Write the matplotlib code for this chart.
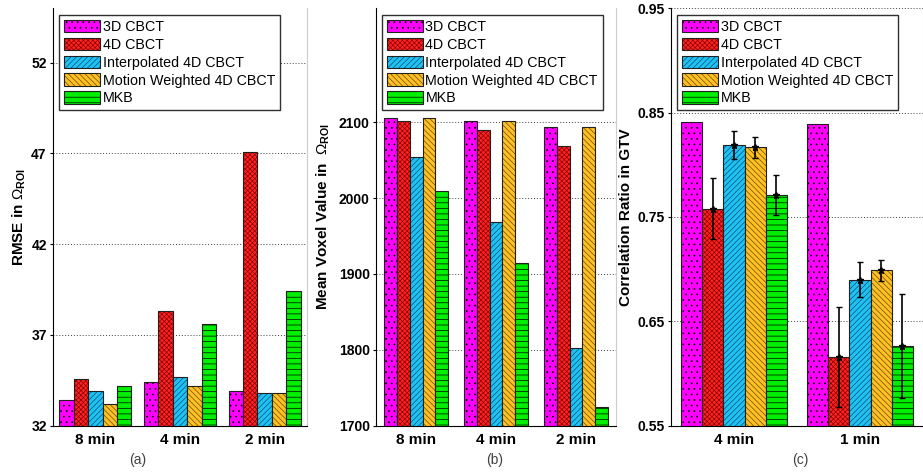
import matplotlib
matplotlib.use('Agg')
import numpy as np
import matplotlib.pyplot as plt
from matplotlib.patches import Patch

plt.rcParams['font.family'] = ['Liberation Sans', 'DejaVu Sans']
plt.rcParams['mathtext.fontset'] = 'custom'
plt.rcParams['mathtext.rm'] = 'Liberation Sans'
plt.rcParams['mathtext.bf'] = 'Liberation Sans:bold'
plt.rcParams['hatch.linewidth'] = 0.5

methods = ['3D CBCT', '4D CBCT', 'Interpolated 4D CBCT', 'Motion Weighted 4D CBCT', 'MKB']

# (a) RMSE
groups_a = ['8 min', '4 min', '2 min']
rmse_3d = [33.4, 34.4, 33.9]
rmse_4d = [34.55, 38.3, 47.1]
rmse_interp = [33.9, 34.7, 33.8]
rmse_mw = [33.2, 34.2, 33.8]
rmse_mkb = [34.2, 37.6, 39.4]

# (b) mean voxel value
groups_b = ['8 min', '4 min', '2 min']
mean_3d = [2106, 2102, 2093]
mean_4d = [2101, 2089, 2069]
mean_interp = [2054, 1968, 1802]
mean_mw = [2106, 2102, 2093]
mean_mkb = [2009, 1914, 1725]

# (c) correlation ratio
groups_c = ['4 min', '1 min']
corr_3d = [0.841, 0.839]
corr_4d = [0.758, 0.616]
corr_interp = [0.819, 0.690]
corr_mw = [0.817, 0.699]
corr_mkb = [0.771, 0.626]
err_4d = [0.029, 0.048]
err_interp = [0.013, 0.017]
err_mw = [0.010, 0.010]
err_mkb = [0.019, 0.050]

face_colors = ['#ff00ff', '#ff2424', '#1ec3f2', '#ffc024', '#00ee00']
hatch_colors = ['#000000', '#8a0000', '#0b4a7c', '#6a4c00', '#000000']
hatches = ['...', 'xxxxxxx', '//////', '\\\\\\\\\\\\', '---']

fig = plt.figure(figsize=(9.23, 4.72), dpi=100)


def draw_panel(rect, groups, series, bw, ylim, yticks, ylabel, lab_x, errors=None):
    ax = fig.add_axes(rect)
    xs = np.arange(1, len(groups) + 1)
    for i, vals in enumerate(series):
        x = xs + (i - 2) * bw
        ax.bar(x, vals, bw, color=face_colors[i], edgecolor='none', zorder=2)
        ax.bar(x, vals, bw, color='none', edgecolor=hatch_colors[i], hatch=hatches[i], lw=0, zorder=2)
        ax.bar(x, vals, bw, color='none', edgecolor='#202020', lw=0.8, zorder=2)
        if errors is not None and errors[i] is not None:
            ax.errorbar(x, vals, yerr=errors[i], fmt='*', color='k', ms=5, mew=1,
                        elinewidth=1.2, capsize=2.5, capthick=1.2, zorder=3)
    ax.set_xlim(0.5, len(groups) + 0.5)
    ax.set_ylim(*ylim)
    ax.set_yticks(yticks, [f'{t:g}' if t >= 1 else f'{t:.2f}' for t in yticks], fontweight='bold')
    ax.set_xticks(xs, groups, fontweight='bold', fontsize=11)
    ax.tick_params(axis='y', labelsize=10, length=2.5, direction='out', pad=2)
    ax.tick_params(axis='x', length=0, pad=5)
    ax.yaxis.grid(True, linestyle=(0, (1, 2)), color='#404040', lw=0.7)
    ax.set_axisbelow(True)
    ax.spines['top'].set_visible(False)
    ax.spines['right'].set_color('#cccccc')
    ax.set_ylabel(ylabel, fontsize=11, fontweight='bold')
    ax.yaxis.set_label_coords(lab_x, 0.5)
    handles = [(Patch(facecolor=face_colors[i], edgecolor='none'),
                Patch(facecolor='none', edgecolor=hatch_colors[i], hatch=hatches[i], lw=0),
                Patch(facecolor='none', edgecolor='#202020', lw=0.8)) for i in range(5)]
    leg = ax.legend(handles, methods, loc='upper left', bbox_to_anchor=(0.024, 0.984),
                    borderaxespad=0, fontsize=10.3, fancybox=False, framealpha=1,
                    edgecolor='#303030', handlelength=2.5, handleheight=0.95,
                    handletextpad=0.2, labelspacing=0.26, borderpad=0.35)
    leg.get_frame().set_linewidth(1)
    return ax


b, h = 0.0983, 0.884
draw_panel([0.0574, b, 0.2752, h], groups_a,
           [rmse_3d, rmse_4d, rmse_interp, rmse_mw, rmse_mkb], 0.17,
           (32, 55), [32, 37, 42, 47, 52], r'RMSE in $\Omega_{\mathbf{ROI}}$', -0.098)
draw_panel([0.4074, b, 0.2600, h], groups_b,
           [mean_3d, mean_4d, mean_interp, mean_mw, mean_mkb], 0.162,
           (1700, 2250), [1700, 1800, 1900, 2000, 2100],
           r'Mean Voxel Value in  $\Omega_{\mathbf{ROI}}$', -0.183)
draw_panel([0.7270, b, 0.2730, h], groups_c,
           [corr_3d, corr_4d, corr_interp, corr_mw, corr_mkb], 0.167,
           (0.55, 0.95), [0.55, 0.65, 0.75, 0.85, 0.95], 'Correlation Ratio in GTV', -0.151,
           errors=[None, err_4d, err_interp, err_mw, err_mkb])

for x, t in [(138, '(a)'), (495, '(b)'), (800, '(c)')]:
    fig.text(x / 923, 1 - 460 / 472, t, ha='center', va='center', fontsize=10, color='#404040')

fig.savefig('out.png', dpi=100)
